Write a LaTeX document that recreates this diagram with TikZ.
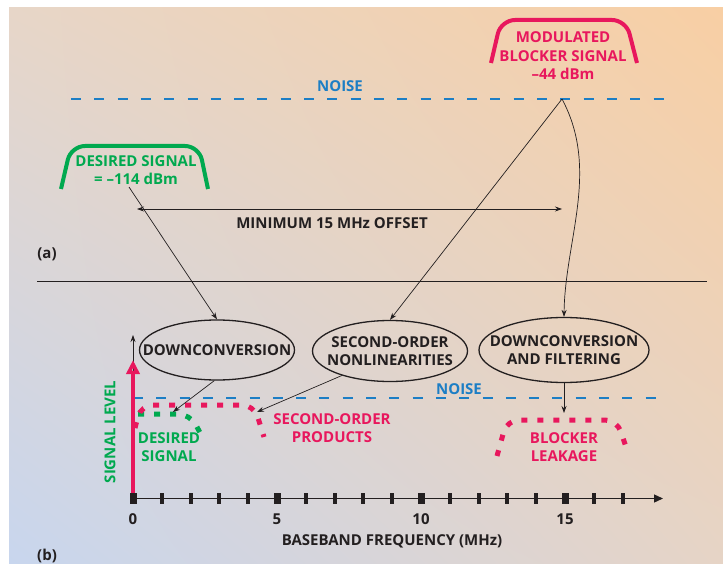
\documentclass[tikz,border=0pt]{standalone}
\usepackage{fontspec}
\setmainfont{Open Sans}
\usetikzlibrary{arrows.meta,shapes.geometric,shadings}
\definecolor{ink}{HTML}{231F20}
\definecolor{pinkc}{HTML}{E8175D}
\definecolor{greenc}{HTML}{00A94F}
\definecolor{bluec}{HTML}{1C7EC5}
\definecolor{bgtl}{HTML}{E7D6C8}
\definecolor{bgtr}{HTML}{F8CFA4}
\definecolor{bgbl}{HTML}{C8D6EE}
\definecolor{bgbr}{HTML}{E6D4C6}
\tikzset{
  txt/.style={font=\bfseries\fontsize{15}{18.5}\selectfont, text=ink, inner sep=0pt, align=center},
  bubble/.style={ellipse, draw=ink, line width=1.3pt, inner sep=0pt},
  conn/.style={draw=ink, line width=0.7pt, -{Stealth[length=7pt,width=5pt]}},
  band/.style={line width=4pt, rounded corners=14pt},
  dots/.style={line width=5pt, dash pattern=on 6pt off 10pt, rounded corners=12pt},
  noise/.style={draw=bluec, line width=2.5pt, dash pattern=on 10pt off 13.3pt}
}
\begin{document}
\begin{tikzpicture}[x=1pt, y=-1pt]
  \useasboundingbox (0,0) rectangle (723,564);
  \shade[upper left=bgtl, upper right=bgtr, lower left=bgbl, lower right=bgbr]
    (9,8) rectangle (723,564);
  % (a) the input spectrum
  \draw[noise] (71,99) -- (665,99);
  \node[txt, text=bluec] (noisea) at (340,86) {NOISE};
  \draw[band, greenc] (61,189) -- (71,146) -- (199,146) -- (208,189);
  \node[txt, text=greenc] (dsig) at (136,170) {DESIRED SIGNAL\\= –114 dBm};
  \draw[band, pinkc] (491,63) -- (501,20) -- (626,20) -- (637,63);
  \node[txt, text=pinkc] (blksig) at (563,56) {MODULATED\\BLOCKER SIGNAL\\–44 dBm};
  \coordinate (offL) at (137,209); \coordinate (offR) at (562,209);
  \draw[ink, line width=0.7pt, {Stealth[length=7pt,width=5pt]}-{Stealth[length=7pt,width=5pt]}] (offL) -- (offR);
  \node[txt] (offset) at (332,223) {MINIMUM 15 MHz OFFSET};
  \node[txt] (pa) at (47,254) {(a)};
  \draw[ink, line width=0.8pt] (37,281) -- (707,281);
  % (b) the blocks and the baseband spectrum
  \node[bubble, minimum width=155pt, minimum height=60pt] (dconv) at (217,350) {};
  \node[bubble, minimum width=155pt, minimum height=61pt] (sonl) at (390,351) {};
  \node[bubble, minimum width=170pt, minimum height=65pt] (dcfilt) at (564,350) {};
  \foreach \b/\t in {dconv/DOWNCONVERSION, sonl/SECOND-ORDER\\NONLINEARITIES,
                     dcfilt/DOWNCONVERSION\\AND FILTERING}
    \node[txt] at (\b) {\t};
  \coordinate (dsigfoot) at (129,187); \coordinate (blk) at (562,99);
  \draw[conn] (dsigfoot) -- (dconv.north);
  \draw[conn] (blk) -- (sonl.north);
  \draw[conn] (blk) .. controls (600,170) and (565,240) .. (dcfilt.north);
  \draw[noise] (133,398) -- (657,398);
  \node[txt, text=bluec] (noiseb) at (459,389) {NOISE};
  \draw[dots, greenc] (138,414) -- (190,414) -- (204,440);
  \draw[dots, pinkc] (135,428) -- (141,405) -- (254,405) -- (264,437);
  \draw[dots, pinkc] (497,456) -- (507,420) -- (617,420) -- (627,450);
  \coordinate (dsigtip) at (173,412); \coordinate (prodtip) at (257,412);
  \coordinate (leaktip) at (564,413);
  \draw[conn] (dconv.265) -- (dsigtip);
  \draw[conn] (sonl.207) -- (prodtip);
  \draw[conn] (dcfilt.south) -- (leaktip);
  \node[txt, text=greenc] (dlbl) at (169,447) {DESIRED\\SIGNAL};
  \node[txt, text=pinkc] (plbl) at (332,428) {SECOND-ORDER\\PRODUCTS};
  \node[txt, text=pinkc] (llbl) at (564,447) {BLOCKER\\LEAKAGE};
  % axes
  \draw[conn] (133,498) -- (133,335);
  \draw[pinkc, line width=4.5pt, -{Triangle[open, length=14pt, width=13pt]}] (133,498) -- (133,360);
  \node[txt, text=greenc, rotate=90] (ylbl) at (110,432) {SIGNAL LEVEL};
  \draw[ink, line width=1.3pt, -{Triangle[length=9pt,width=8pt]}] (133,498.5) -- (663,498.5);
  \foreach \i in {1,...,17}
    \fill[ink] ({133+28.8*\i-2},493) rectangle ({133+28.8*\i+2},504);
  \foreach \v in {0,5,10,15} {
    \fill[ink] ({133+28.8*\v-3.5},493) rectangle ({133+28.8*\v+3.5},504);
    \node[txt] (t\v) at ({133+28.8*\v},519) {\v};
  }
  \node[txt] (xlbl) at (392,541) {BASEBAND FREQUENCY (MHz)};
  \node[txt] (pb) at (47,556) {(b)};
\end{tikzpicture}
\end{document}
